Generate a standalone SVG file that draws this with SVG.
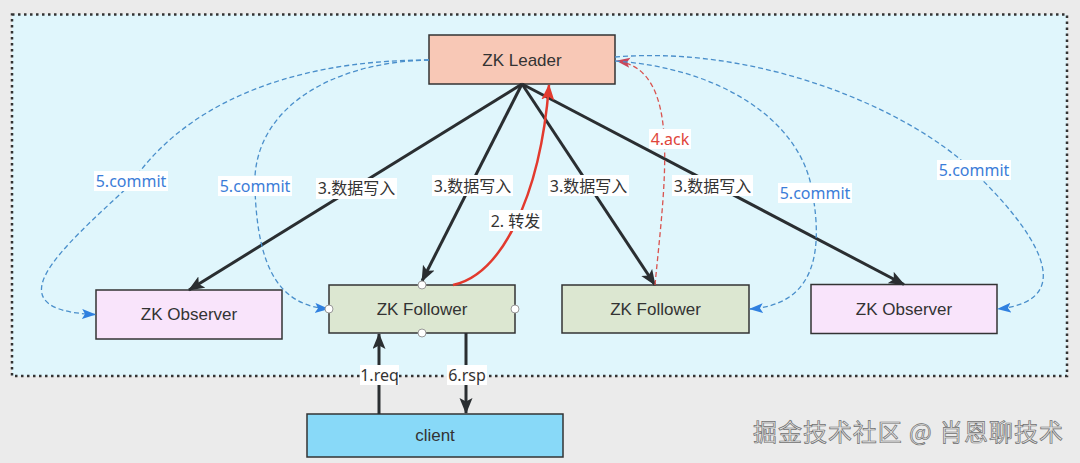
<svg xmlns="http://www.w3.org/2000/svg" width="1080" height="463" viewBox="0 0 1080 463">
  <defs>
    <style>
      .node-rect { stroke: #333; stroke-width: 1.5; }
      .node-text { font-family: "Liberation Sans", "Noto Sans", "Noto Sans CJK SC", sans-serif; font-size: 17px; fill: #333; text-anchor: middle; dominant-baseline: central; }
      .solid { fill: none; stroke: #2a2e31; stroke-width: 3; }
      .fwd { fill: none; stroke: #e23a2e; stroke-width: 2.5; }
      .ack { fill: none; stroke: #d9534f; stroke-width: 1.3; stroke-dasharray: 5 3; }
      .commit { fill: none; stroke: #4a8fcb; stroke-width: 1.3; stroke-dasharray: 5 3; }
      .lbl-bg { fill: #ffffff; }
      .lbl { font-family: "Noto Sans", "Liberation Sans", "Noto Sans CJK SC", sans-serif; font-size: 16px; text-anchor: middle; dominant-baseline: central; }
      .lbl-dark { fill: #333; }
      .lbl-blue { fill: #3b7dd8; }
      .lbl-red { fill: #e0453a; }
      .port { fill: #fff; stroke: #9a9a9a; stroke-width: 1; }
    </style>
    <marker id="arrBlack" markerUnits="userSpaceOnUse" markerWidth="18" markerHeight="14" refX="15" refY="6.5" orient="auto">
      <path d="M0,0 L16,6.5 L0,13 L3.5,6.5 Z" fill="#2a2e31"/>
    </marker>
    <marker id="arrRed" markerUnits="userSpaceOnUse" markerWidth="18" markerHeight="14" refX="15" refY="6.5" orient="auto">
      <path d="M0,0 L16,6.5 L0,13 L3.5,6.5 Z" fill="#e23a2e"/>
    </marker>
    <marker id="arrAck" markerUnits="userSpaceOnUse" markerWidth="16" markerHeight="12" refX="13" refY="5" orient="auto">
      <path d="M0,0 L14,5 L0,10 L3,5 Z" fill="#c9465a"/>
    </marker>
    <marker id="arrBlue" markerUnits="userSpaceOnUse" markerWidth="16" markerHeight="12" refX="13" refY="5" orient="auto">
      <path d="M0,0 L14,5 L0,10 L3,5 Z" fill="#2f80e0"/>
    </marker>
  </defs>

  <!-- background -->
  <rect x="0" y="0" width="1080" height="463" fill="#ebebeb"/>
  <rect id="cluster" x="12" y="14.5" width="1055" height="361.5" fill="#e0f6fc" stroke="#333" stroke-width="2.5" stroke-dasharray="2.5 3.5"/>

  <!-- nodes -->
  <g id="leader">
    <rect class="node-rect" x="429" y="35" width="186" height="49" fill="#f8c8b6"/>
    <text class="node-text" x="522" y="60">ZK Leader</text>
  </g>
  <g id="observer1">
    <rect class="node-rect" x="96" y="290" width="186" height="49" fill="#f9e4fb"/>
    <text class="node-text" x="189" y="314.5">ZK Observer</text>
  </g>
  <g id="follower1">
    <rect class="node-rect" x="329" y="285" width="186" height="48" fill="#dce7d1"/>
    <text class="node-text" x="422" y="309">ZK Follower</text>
  </g>
  <g id="follower2">
    <rect class="node-rect" x="562" y="285" width="187" height="48" fill="#dce7d1"/>
    <text class="node-text" x="655.5" y="309">ZK Follower</text>
  </g>
  <g id="observer2">
    <rect class="node-rect" x="811" y="284.5" width="186" height="49" fill="#f9e4fb"/>
    <text class="node-text" x="904" y="309">ZK Observer</text>
  </g>
  <g id="client">
    <rect class="node-rect" x="307" y="414" width="256" height="43" fill="#88d9f8"/>
    <text class="node-text" x="435" y="435.5">client</text>
  </g>

  <!-- connectors -->
  <g id="connectors">
    <!-- 3. data write -->
    <path class="solid" d="M522 84 L189 290" marker-end="url(#arrBlack)"/>
    <path class="solid" d="M522 84 L422 281" marker-end="url(#arrBlack)"/>
    <path class="solid" d="M522 84 L655 285" marker-end="url(#arrBlack)"/>
    <path class="solid" d="M522 84 L904 284.5" marker-end="url(#arrBlack)"/>
    <!-- 2. forward -->
    <path class="fwd" d="M453 285 C500 275, 540 200, 549 85" marker-end="url(#arrRed)"/>
    <!-- 4. ack -->
    <path class="ack" d="M655 285 C665 180, 682 70, 617 61" marker-end="url(#arrAck)"/>
    <!-- 5. commit -->
    <path class="commit" d="M429 60 C280 60, 180 110, 130 185 C60 250, -10 310, 95 314.5" marker-end="url(#arrBlue)"/>
    <path class="commit" d="M429 60 C330 62, 250 110, 255 190 C258 270, 280 305, 328 309" marker-end="url(#arrBlue)"/>
    <path class="commit" d="M615 61 C720 68, 800 120, 812 190 C825 260, 810 305, 750 309" marker-end="url(#arrBlue)"/>
    <path class="commit" d="M615 57 C760 45, 910 110, 972 170 C1030 225, 1085 300, 998 309" marker-end="url(#arrBlue)"/>
    <!-- 1. req / 6. rsp -->
    <path class="solid" d="M379 414 L379 334" marker-end="url(#arrBlack)"/>
    <path class="solid" d="M466 333 L466 413" marker-end="url(#arrBlack)"/>
  </g>

  <!-- follower1 ports -->
  <g id="follower1-ports">
    <circle class="port" cx="422" cy="285" r="4"/>
    <circle class="port" cx="422" cy="333" r="4"/>
    <circle class="port" cx="329" cy="309" r="4"/>
    <circle class="port" cx="515" cy="309" r="4"/>
  </g>

  <!-- connector labels -->
  <g id="labels">
    <rect class="lbl-bg" x="94" y="171" width="74" height="20"/>
    <text class="lbl lbl-blue" x="131" y="181">5.commit</text>
    <rect class="lbl-bg" x="218" y="176" width="74" height="20"/>
    <text class="lbl lbl-blue" x="255" y="186">5.commit</text>
    <rect class="lbl-bg" x="316" y="178" width="81" height="21"/>
    <text class="lbl lbl-dark" x="356.5" y="188">3.数据写入</text>
    <rect class="lbl-bg" x="432" y="175" width="81" height="21"/>
    <text class="lbl lbl-dark" x="472.5" y="185.5">3.数据写入</text>
    <rect class="lbl-bg" x="489" y="210" width="53" height="21"/>
    <text class="lbl lbl-dark" x="515.5" y="220.5">2. 转发</text>
    <rect class="lbl-bg" x="548" y="175" width="81" height="21"/>
    <text class="lbl lbl-dark" x="588.5" y="185.5">3.数据写入</text>
    <rect class="lbl-bg" x="649" y="129" width="42" height="20"/>
    <text class="lbl lbl-red" x="670" y="139">4.ack</text>
    <rect class="lbl-bg" x="672" y="175" width="81" height="21"/>
    <text class="lbl lbl-dark" x="712.5" y="185.5">3.数据写入</text>
    <rect class="lbl-bg" x="778" y="183" width="74" height="20"/>
    <text class="lbl lbl-blue" x="815" y="193">5.commit</text>
    <rect class="lbl-bg" x="937" y="160" width="74" height="20"/>
    <text class="lbl lbl-blue" x="974" y="170">5.commit</text>
    <rect class="lbl-bg" x="360" y="365" width="39" height="20"/>
    <text class="lbl lbl-dark" x="379.5" y="375">1.req</text>
    <rect class="lbl-bg" x="447" y="365" width="40" height="20"/>
    <text class="lbl lbl-dark" x="467" y="375">6.rsp</text>
  </g>

  <!-- watermark -->
  <text x="753" y="441" font-family="Noto Sans CJK SC, sans-serif" font-size="24" textLength="310" lengthAdjust="spacing" fill="#e4e4e4" stroke="#707070" stroke-width="0.7">掘金技术社区 @ 肖恩聊技术</text>
</svg>
